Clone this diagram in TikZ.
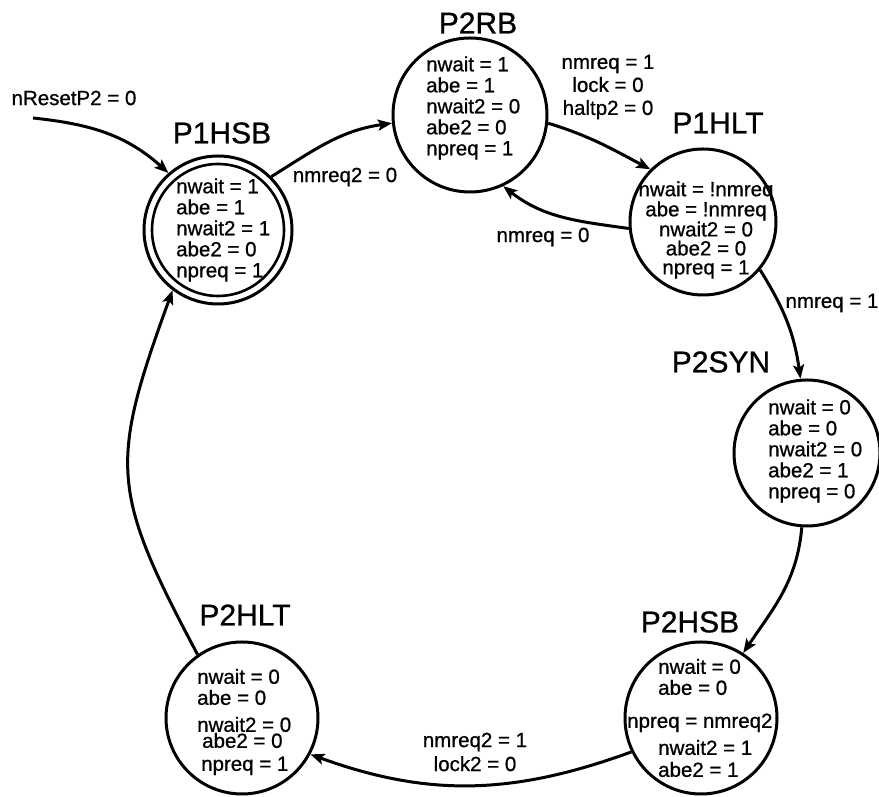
\documentclass[tikz,border=0pt]{standalone}
\usepackage{fontspec}
\setmainfont{Liberation Sans}[FakeBold=0.8]
\usetikzlibrary{arrows.meta}
\begin{document}
\begin{tikzpicture}[x=1pt,y=1pt,
  ring/.style={circle, draw, line width=3pt, inner sep=0pt, minimum size=#1},
  title/.style={font=\fontsize{30}{30}\selectfont, inner sep=0pt},
  vars/.style={font=\fontsize{20.5}{21}\selectfont, inner sep=0pt, align=#1},
  lbl/.style={font=\fontsize{20.5}{24}\selectfont, inner sep=0pt, align=center},
  trans/.style={line width=3pt, -{Stealth[length=14pt,width=11pt,inset=3pt]}},
]
\useasboundingbox (0,0) rectangle (879,797);

% ---- states ----
% P1HSB (initial state, double ring)
\node[ring=148pt] (p1hsb) at (218,567) {};
\node[ring=132pt, line width=2.6pt] (p1hsbin) at (218,567) {};
\node[title] (p1hsbt) at (222,664) {P1HSB};
\node[vars=left, anchor=west] (p1hsbv) at (176,567)
  {nwait = 1\\abe = 1\\nwait2 = 1\\abe2 = 0\\npreq = 1};

% P2RB
\node[ring=154pt] (p2rb) at (470,682) {};
\node[title] (p2rbt) at (478,774) {P2RB};
\node[vars=left, anchor=west] (p2rbv) at (426,689)
  {nwait = 1\\abe = 1\\nwait2 = 0\\abe2 = 0\\npreq = 1};

% P1HLT
\node[ring=146pt] (p1hlt) at (703,575) {};
\node[title] (p1hltt) at (718,674) {P1HLT};
\node[vars=center, font=\fontsize{20.5}{19}\selectfont] (p1hltv) at (706,567)
  {nwait = !nmreq\\abe = !nmreq\\nwait2 = 0\\abe2 = 0\\npreq = 1};

% P2SYN
\node[ring=146pt] (p2syn) at (807,344) {};
\node[title] (p2synt) at (721,435) {P2SYN};
\node[vars=left, anchor=west] (p2synv) at (768,346)
  {nwait = 0\\abe = 0\\nwait2 = 0\\abe2 = 1\\npreq = 0};

% P2HSB
\node[ring=152pt] (p2hsb) at (701,79) {};
\node[title] (p2hsbt) at (690,175) {P2HSB};
\node[vars=left, anchor=west] (p2hsbv) at (658,79)
  {nwait = 0\\abe = 0\\[12pt]\hspace*{-31pt}npreq = nmreq2\\[6pt]nwait2 = 1\\[1pt]abe2 = 1};

% P2HLT (two lines sit close together here)
\node[ring=152pt] (p2hlt) at (242,79) {};
\node[title] (p2hltt) at (245,182) {P2HLT};
\node[vars=left, anchor=west] (p2hltv) at (197,75)
  {nwait = 0\\abe = 0\\[6pt]nwait2 = 0\\[-5pt]\hspace*{5pt}abe2 = 0\\[2pt]\hspace*{4pt}npreq = 1};

% ---- transitions ----
\coordinate (start) at (33,679);
\node[lbl] (resetlbl) at (74,699) {nResetP2 = 0};
\draw[trans] (start) to[out=-6,in=138] (p1hsb.131);

\draw[trans] (p1hsb.45) to[out=32,in=188] (p2rb.186);
\node[lbl] (l1) at (345,620) {nmreq2 = 0};

\draw[trans] (p2rb.-6) to[out=-17,in=152] (p1hlt.135);
\node[lbl, font=\fontsize{20.5}{23}\selectfont] (l2) at (608,710) {nmreq = 1\\lock = 0\\haltp2 = 0};

\draw[trans] (p1hlt.185) to[out=172,in=-38] (p2rb.-65);
\node[lbl] (l3) at (543,560) {nmreq = 0};

\draw[trans] (p1hlt.-40) to[out=-58,in=98] (p2syn.95);
\node[lbl] (l4) at (832,494) {nmreq = 1};

\draw[trans] (p2syn.-94) to[out=-95,in=56] (p2hsb.57);

\draw[trans] (p2hsb.206) to[out=200,in=-20] (p2hlt.-28);
\node[lbl] (l5) at (475,45) {nmreq2 = 1\\lock2 = 0};

\draw[trans] (p2hlt.125) to[out=118,in=-110,looseness=1.3] (p1hsb.233);
\end{tikzpicture}
\end{document}
